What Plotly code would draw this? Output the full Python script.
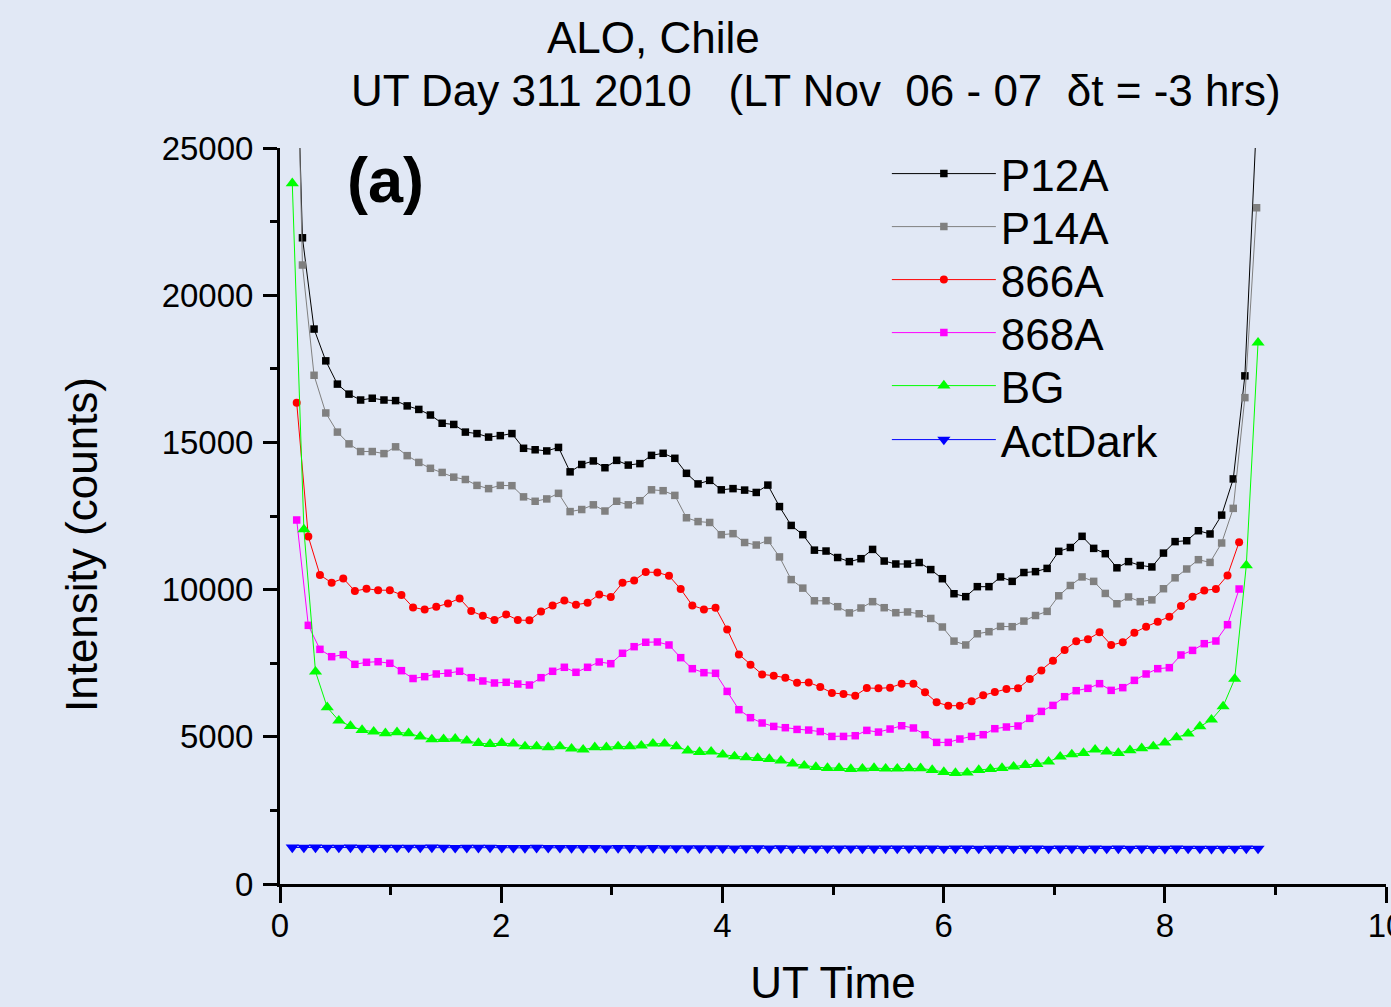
import plotly.graph_objects as go

# ---------------- data ----------------
t_p = [0.098, 0.203, 0.308, 0.414, 0.519, 0.624, 0.729, 0.834, 0.940, 1.045,
       1.150, 1.255, 1.360, 1.466, 1.571, 1.676, 1.781, 1.886, 1.992, 2.097,
       2.202, 2.307, 2.412, 2.518, 2.623, 2.728, 2.833, 2.938, 3.044, 3.149,
       3.254, 3.359, 3.464, 3.570, 3.675, 3.780, 3.885, 3.990, 4.096, 4.201,
       4.306, 4.411, 4.516, 4.622, 4.727, 4.832, 4.937, 5.042, 5.148, 5.253,
       5.358, 5.463, 5.568, 5.674, 5.779, 5.884, 5.989, 6.094, 6.200, 6.305,
       6.410, 6.515, 6.620, 6.726, 6.831, 6.936, 7.041, 7.146, 7.252, 7.357,
       7.462, 7.567, 7.672, 7.778, 7.883, 7.988, 8.093, 8.198, 8.304, 8.409,
       8.514, 8.619, 8.724, 8.830]

t_bg = [0.111, 0.216, 0.321, 0.427, 0.532, 0.637, 0.742, 0.847, 0.953, 1.058,
        1.163, 1.268, 1.373, 1.479, 1.584, 1.689, 1.794, 1.899, 2.005, 2.110,
        2.215, 2.320, 2.425, 2.531, 2.636, 2.741, 2.846, 2.951, 3.057, 3.162,
        3.267, 3.372, 3.477, 3.583, 3.688, 3.793, 3.898, 4.003, 4.109, 4.214,
        4.319, 4.424, 4.529, 4.635, 4.740, 4.845, 4.950, 5.055, 5.161, 5.266,
        5.371, 5.476, 5.581, 5.687, 5.792, 5.897, 6.002, 6.107, 6.213, 6.318,
        6.423, 6.528, 6.633, 6.739, 6.844, 6.949, 7.054, 7.159, 7.265, 7.370,
        7.475, 7.580, 7.685, 7.791, 7.896, 8.001, 8.106, 8.211, 8.317, 8.422,
        8.527, 8.632, 8.737, 8.843]

t_86 = [0.151, 0.256, 0.361, 0.467, 0.572, 0.677, 0.782, 0.887, 0.993, 1.098,
        1.203, 1.308, 1.413, 1.519, 1.624, 1.729, 1.834, 1.939, 2.045, 2.150,
        2.255, 2.360, 2.465, 2.571, 2.676, 2.781, 2.886, 2.991, 3.097, 3.202,
        3.307, 3.412, 3.517, 3.623, 3.728, 3.833, 3.938, 4.043, 4.149, 4.254,
        4.359, 4.464, 4.569, 4.675, 4.780, 4.885, 4.990, 5.095, 5.201, 5.306,
        5.411, 5.516, 5.621, 5.727, 5.832, 5.937, 6.042, 6.147, 6.253, 6.358,
        6.463, 6.568, 6.673, 6.779, 6.884, 6.989, 7.094, 7.199, 7.305, 7.410,
        7.515, 7.620, 7.725, 7.831, 7.936, 8.041, 8.146, 8.251, 8.357, 8.462,
        8.567, 8.672]

p12a = [36000, 21950, 18850, 17770, 16980, 16640, 16440, 16500, 16440, 16420,
        16240, 16120, 15930, 15650, 15610, 15350, 15300, 15180, 15230, 15300,
        14800, 14750, 14710, 14830, 14000, 14250, 14370, 14140, 14390, 14230,
        14280, 14560, 14630, 14460, 13950, 13590, 13710, 13390, 13430, 13380,
        13300, 13550, 12820, 12180, 11865, 11340, 11310, 11090, 10950, 11050,
        11365, 10970, 10870, 10870, 10920, 10680, 10370, 9860, 9760, 10100,
        10100, 10430, 10280, 10580, 10610, 10720, 11300, 11430, 11810, 11400,
        11220, 10740, 10950, 10820, 10770, 11240, 11630, 11660, 12000, 11890,
        12530, 13760, 17260, 26000]

p14a = [38000, 21025, 17280, 16000, 15350, 14950, 14690, 14690, 14620, 14850,
        14550, 14320, 14120, 13980, 13820, 13740, 13540, 13430, 13540, 13530,
        13150, 13000, 13080, 13270, 12650, 12720, 12880, 12670, 13000, 12880,
        13020, 13390, 13360, 13200, 12440, 12310, 12280, 11865, 11900, 11600,
        11515, 11670, 11110, 10340, 10050, 9620, 9620, 9420, 9210, 9375,
        9590, 9385, 9215, 9240, 9180, 9020, 8730, 8250, 8120, 8500,
        8570, 8750, 8740, 8930, 9120, 9260, 9790, 10140, 10430, 10280,
        9870, 9520, 9750, 9590, 9650, 10030, 10400, 10700, 11016, 10924,
        11583, 12760, 16520, 22970]

a866 = [16350, 11800, 10500, 10230, 10380, 9950, 10030, 9980, 9980, 9820,
        9395, 9320, 9416, 9530, 9700, 9270, 9110, 8965, 9157, 8965,
        8955, 9260, 9463, 9633, 9484, 9552, 9837, 9745, 10231, 10312,
        10594, 10584, 10469, 10017, 9463, 9327, 9382, 8648, 7799, 7446,
        7120, 7075, 7007, 6837, 6845, 6695, 6490, 6454, 6396, 6658,
        6646, 6669, 6805, 6805, 6510, 6171, 6057, 6057, 6205, 6409,
        6522, 6624, 6646, 6964, 7256, 7585, 7950, 8243, 8311, 8548,
        8118, 8209, 8536, 8740, 8910, 9080, 9443, 9759, 9973, 10020,
        10482, 11612]

a868 = [12364, 8786, 7971, 7721, 7789, 7463, 7531, 7551, 7497, 7246,
        6980, 7042, 7134, 7163, 7225, 7008, 6896, 6828, 6851, 6793,
        6760, 7008, 7225, 7361, 7191, 7361, 7541, 7484, 7837, 8061,
        8211, 8221, 8119, 7688, 7314, 7178, 7157, 6542, 5921, 5649,
        5469, 5353, 5309, 5251, 5229, 5178, 5013, 5013, 5037, 5218,
        5160, 5264, 5375, 5299, 5071, 4810, 4810, 4925, 5013, 5071,
        5275, 5333, 5367, 5625, 5863, 6067, 6362, 6566, 6646, 6805,
        6577, 6669, 6917, 7134, 7314, 7348, 7779, 7935, 8163, 8254,
        8808, 10020]

bg = [23800, 12045, 7212, 6003, 5548, 5367, 5231, 5174, 5120, 5153,
      5120, 5006, 4910, 4918, 4930, 4867, 4787, 4754, 4787, 4765,
      4674, 4674, 4641, 4674, 4596, 4562, 4641, 4641, 4674, 4674,
      4697, 4765, 4765, 4674, 4528, 4483, 4494, 4392, 4335, 4301,
      4279, 4245, 4188, 4086, 4018, 3973, 3940, 3940, 3906, 3917,
      3940, 3917, 3917, 3928, 3928, 3872, 3804, 3770, 3781, 3872,
      3906, 3940, 3985, 4041, 4075, 4154, 4324, 4403, 4449, 4562,
      4494, 4449, 4539, 4607, 4674, 4799, 4980, 5105, 5353, 5581,
      6033, 6964, 10820, 18387]

actdark = [1240, 1238, 1240, 1236, 1238, 1240, 1232, 1236, 1238, 1236,
           1238, 1236, 1240, 1236, 1230, 1234, 1232, 1236, 1228, 1230,
           1226, 1232, 1228, 1230, 1224, 1226, 1228, 1222, 1226, 1224,
           1220, 1224, 1218, 1222, 1220, 1216, 1220, 1218, 1214, 1218,
           1216, 1212, 1216, 1214, 1210, 1214, 1212, 1208, 1212, 1210,
           1206, 1210, 1208, 1212, 1206, 1208, 1204, 1208, 1210, 1204,
           1206, 1208, 1204, 1206, 1210, 1204, 1206, 1208, 1202, 1206,
           1204, 1208, 1202, 1206, 1204, 1200, 1206, 1202, 1204, 1200,
           1204, 1202, 1206, 1204]

x_ticks = [0, 2, 4, 6, 8, 10]
y_ticks = [0, 5000, 10000, 15000, 20000, 25000]

title_1 = "ALO, Chile"
title_2 = "UT Day 311 2010\u00a0\u00a0\u00a0(LT Nov\u00a0\u00a006 - 07\u00a0\u00a0\u03b4t = -3 hrs)"
panel_label = "(a)"
x_title = "UT Time"
y_title = "Intensity (counts)"

# ---------------- styling ----------------
BG = "#E1E8F5"
FONT = "Liberation Sans, Arial, sans-serif"
BIG = 44

series = [
    ("P12A", t_p, p12a, "#000000", "square", 7.5),
    ("P14A", t_p, p14a, "#808080", "square", 7.5),
    ("866A", t_86, a866, "#FF0000", "circle", 8),
    ("868A", t_86, a868, "#FF00FF", "square", 7.5),
    ("BG", t_bg, bg, "#00FF00", "triangle-up", 11.5),
    ("ActDark", t_bg, actdark, "#0000FF", "triangle-down", 11.5),
]

# one legend per entry so that the row spacing can follow the reference
legend_rows_px = [174, 227, 280, 333, 386, 440]
PLOT_TOP, PLOT_H = 148, 736

fig = go.Figure()
layout_legends = {}
for k, (name, xs, ys, col, sym, sz) in enumerate(series):
    lname = "legend" if k == 0 else "legend%d" % (k + 1)
    fig.add_trace(go.Scatter(
        x=xs, y=ys, name=name, mode="lines+markers", legend=lname,
        line=dict(color=col, width=1),
        marker=dict(color=col, symbol=sym, size=sz, line=dict(width=0)),
    ))
    layout_legends[lname] = dict(
        x=0.5487, y=(PLOT_TOP + PLOT_H - legend_rows_px[k]) / PLOT_H,
        xanchor="left", yanchor="middle",
        bgcolor="rgba(0,0,0,0)", borderwidth=0,
        font=dict(family=FONT, size=BIG, color="#000000"),
        itemwidth=104,
    )

fig.update_layout(
    width=1391, height=1007,
    margin=dict(l=280, r=5, t=148, b=123, autoexpand=False),
    paper_bgcolor=BG, plot_bgcolor=BG,
    font=dict(family=FONT, color="#000000", size=33),
    showlegend=True,
    xaxis=dict(
        range=[0, 10], tickmode="array", tickvals=x_ticks,
        ticktext=[str(v) for v in x_ticks], automargin=False,
        ticklabeloverflow="allow", ticklabelstandoff=-6,
        showgrid=False, zeroline=False,
        showline=True, linecolor="#000000", linewidth=3,
        ticks="outside", ticklen=16, tickwidth=3, tickcolor="#000000",
        minor=dict(dtick=1, ticks="outside", ticklen=8, tickwidth=3,
                   tickcolor="#000000", showgrid=False),
        tickfont=dict(family=FONT, size=33),
        title=dict(text=x_title, font=dict(family=FONT, size=BIG), standoff=34),
    ),
    yaxis=dict(
        range=[0, 25000], tickmode="array", tickvals=y_ticks,
        ticktext=[str(v) for v in y_ticks], automargin=False,
        showgrid=False, zeroline=False,
        showline=True, linecolor="#000000", linewidth=3,
        ticks="outside", ticklen=14, tickwidth=3, tickcolor="#000000",
        ticklabelstandoff=3,
        minor=dict(dtick=2500, ticks="outside", ticklen=7, tickwidth=3,
                   tickcolor="#000000", showgrid=False),
        tickfont=dict(family=FONT, size=33),
    ),
    annotations=[
        dict(text=title_1, xref="paper", yref="paper", x=0.3373, y=1.1508,
             xanchor="center", yanchor="middle", showarrow=False,
             font=dict(family=FONT, size=BIG)),
        dict(text=title_2, xref="paper", yref="paper", x=0.4846, y=1.0788,
             xanchor="center", yanchor="middle", showarrow=False,
             font=dict(family=FONT, size=BIG)),
        dict(text="<b>" + panel_label + "</b>", xref="paper", yref="paper",
             x=0.0958, y=0.9565, xanchor="center", yanchor="middle",
             showarrow=False, font=dict(family=FONT, size=63)),
        dict(text=y_title, xref="paper", yref="paper", x=-0.179, y=0.4606,
             xanchor="center", yanchor="middle", textangle=-90,
             showarrow=False, font=dict(family=FONT, size=BIG)),
    ],
    **layout_legends,
)

fig.write_html("out.html")
